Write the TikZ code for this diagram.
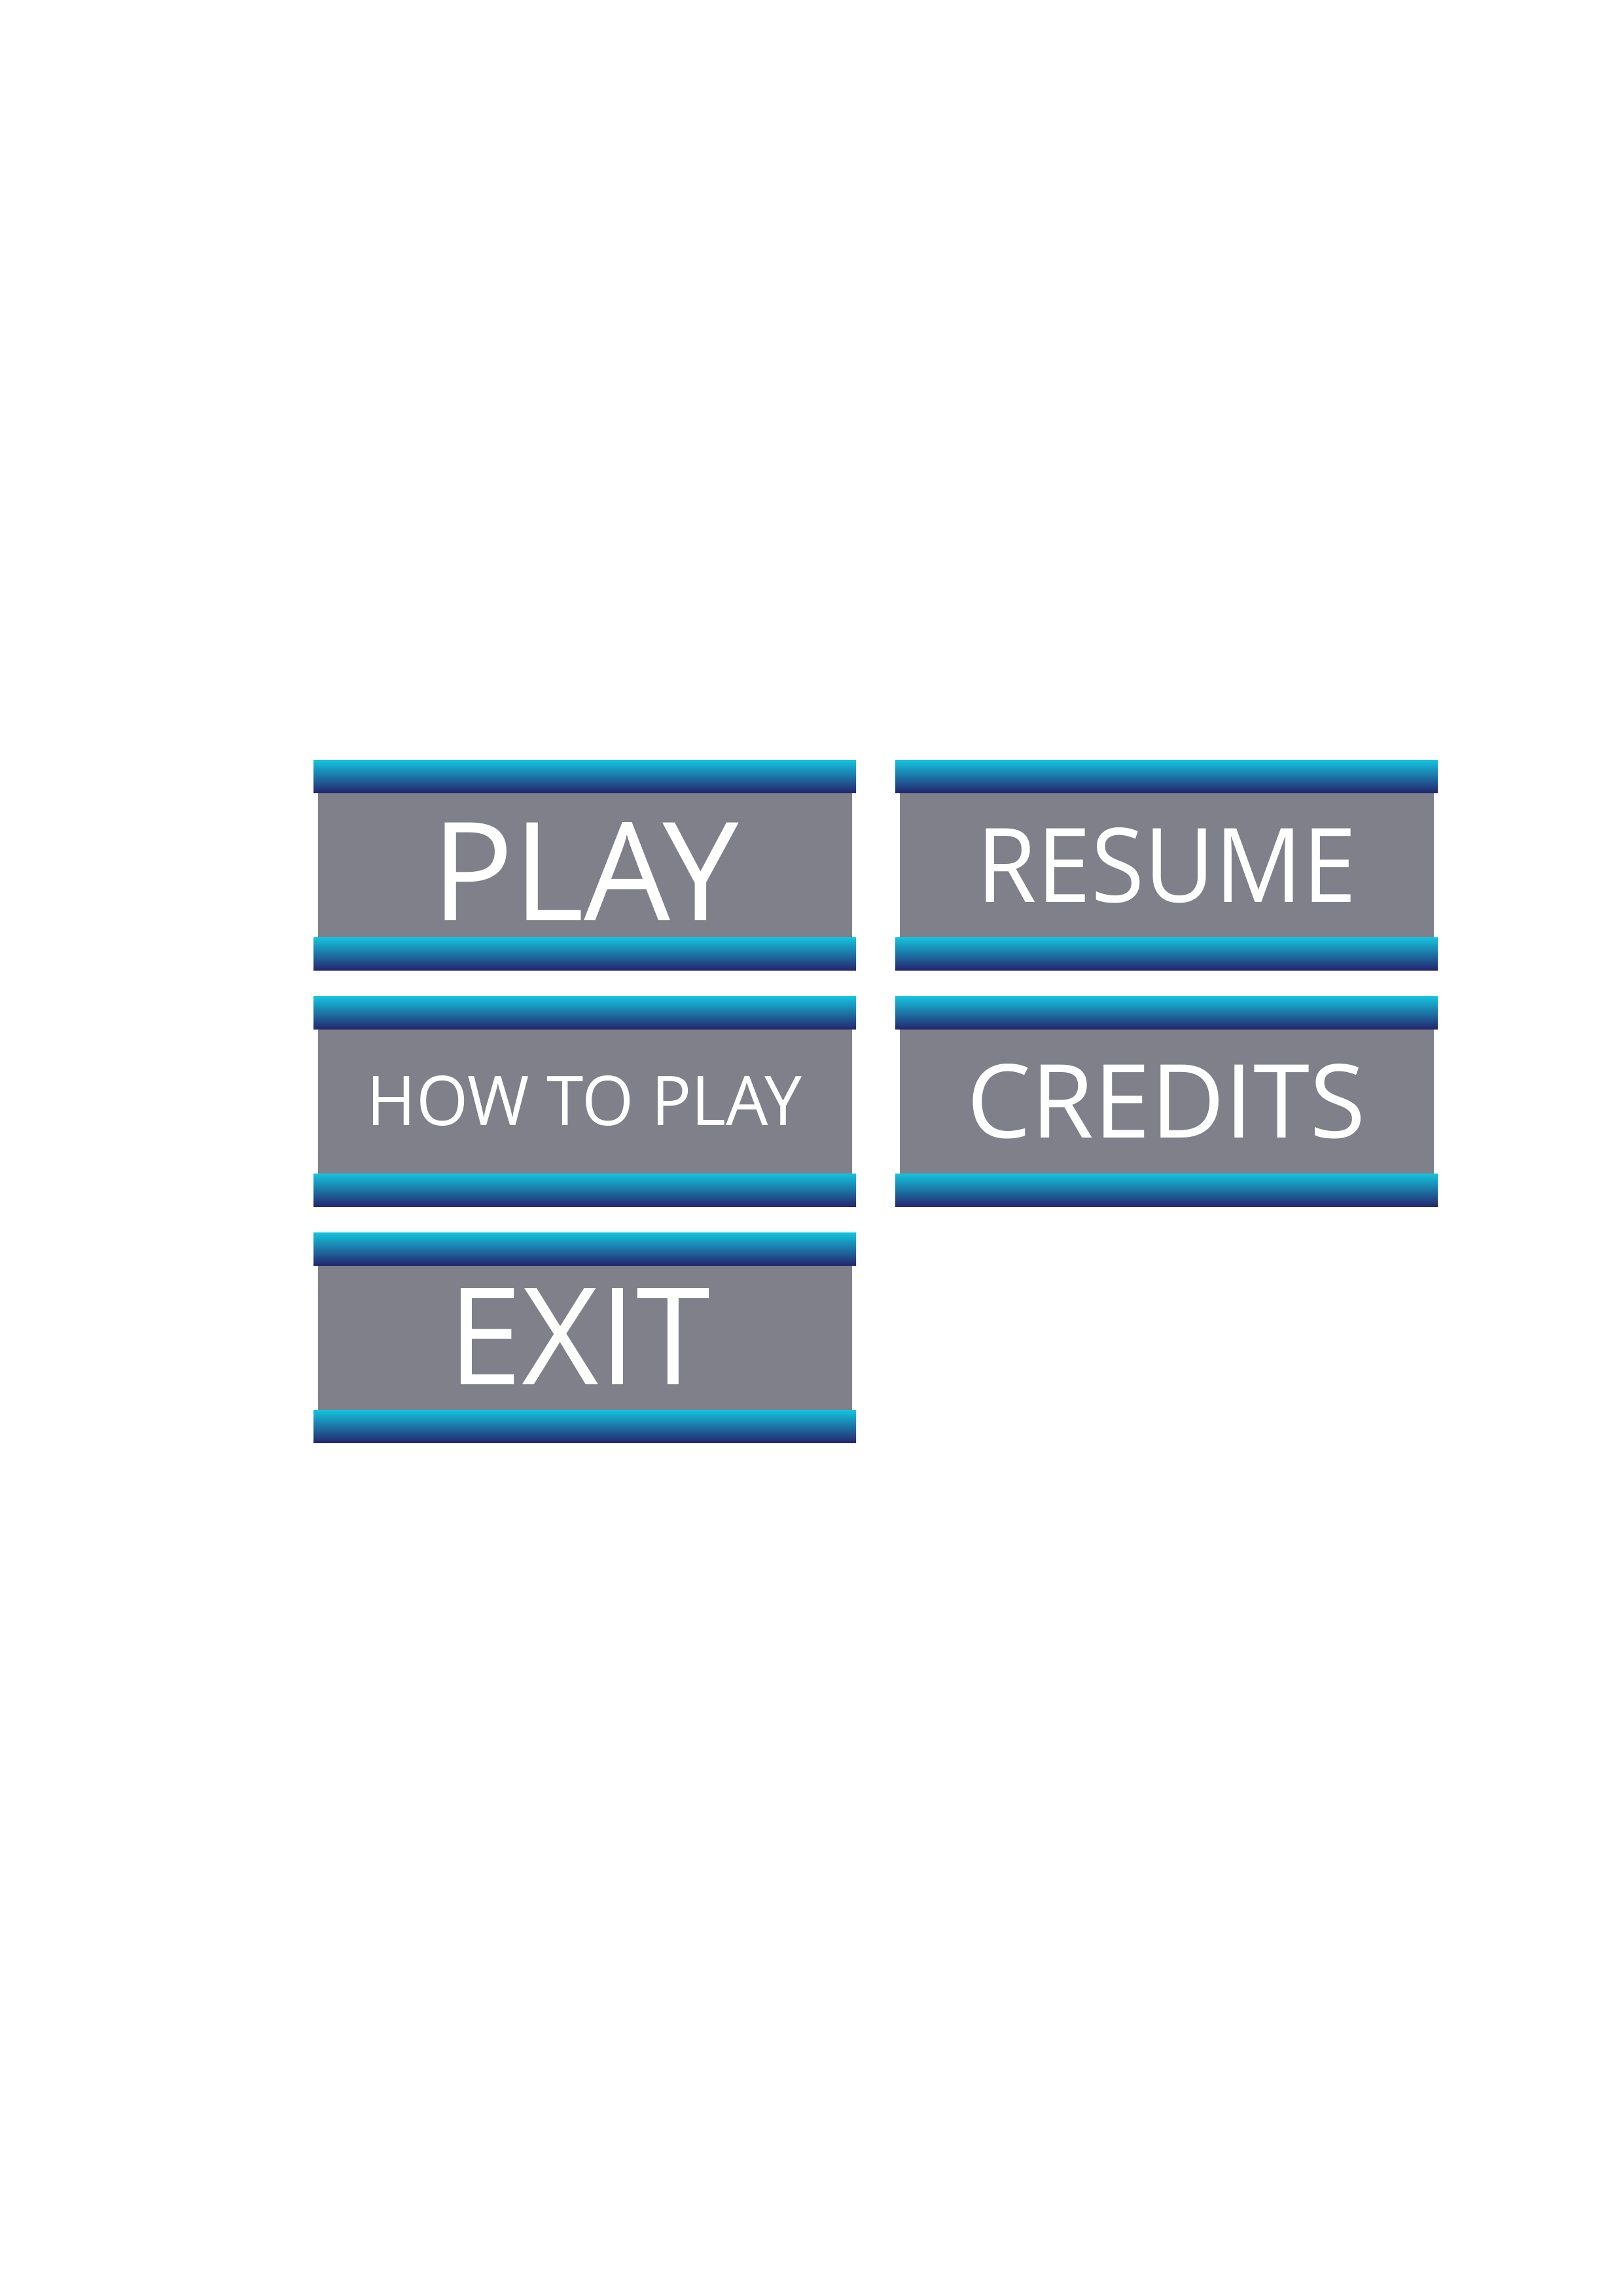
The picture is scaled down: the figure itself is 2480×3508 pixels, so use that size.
\documentclass[tikz,border=0pt]{standalone}
\usepackage{fontspec}
\setmainfont{Open Sans}
\usepackage{graphicx}
\newlength\pxu
\setlength\pxu{0.084677mm}
\definecolor{barcyan}{RGB}{20,196,222}
\definecolor{barnavy}{RGB}{36,38,110}
\definecolor{panelgray}{RGB}{128,128,138}
\tikzset{
  barshade/.style={top color=barcyan,bottom color=barnavy,draw=none},
  panelfill/.style={fill=panelgray,draw=none},
  btnlabel/.style={text=white,inner sep=0pt,outer sep=0pt,anchor=center}
}
% #1 left x, #2 top y
\newcommand\menubtn[2]{%
  \fill[panelfill] ({#1+7},{#2+50}) rectangle ({#1+823},{#2+271});
  \shade[barshade] (#1,#2) rectangle ({#1+829},{#2+50});
  \shade[barshade] (#1,{#2+271}) rectangle ({#1+829},{#2+321});
}
\begin{document}
\begin{tikzpicture}[x=0.084677mm,y=-0.084677mm]
\useasboundingbox (0,0) rectangle (2480,3508);
\fill[white] (0,0) rectangle (2480,3508);
\menubtn{479}{1161}
\menubtn{1368}{1161}
\menubtn{479}{1522}
\menubtn{1368}{1522}
\menubtn{479}{1883}
\node[btnlabel] (play) at (894,1331) {\resizebox{470\pxu}{150\pxu}{PLAY}};
\node[btnlabel] (resume) at (1783,1322) {\resizebox{580\pxu}{114\pxu}{RESUME}};
\node[btnlabel] (howto) at (893,1682) {\resizebox{664\pxu}{76\pxu}{HOW TO PLAY}};
\node[btnlabel] (credits) at (1782,1683) {\resizebox{609\pxu}{113\pxu}{CREDITS}};
\node[btnlabel] (exit) at (885,2042) {\resizebox{401\pxu}{147\pxu}{EXIT}};
\end{tikzpicture}
\end{document}
